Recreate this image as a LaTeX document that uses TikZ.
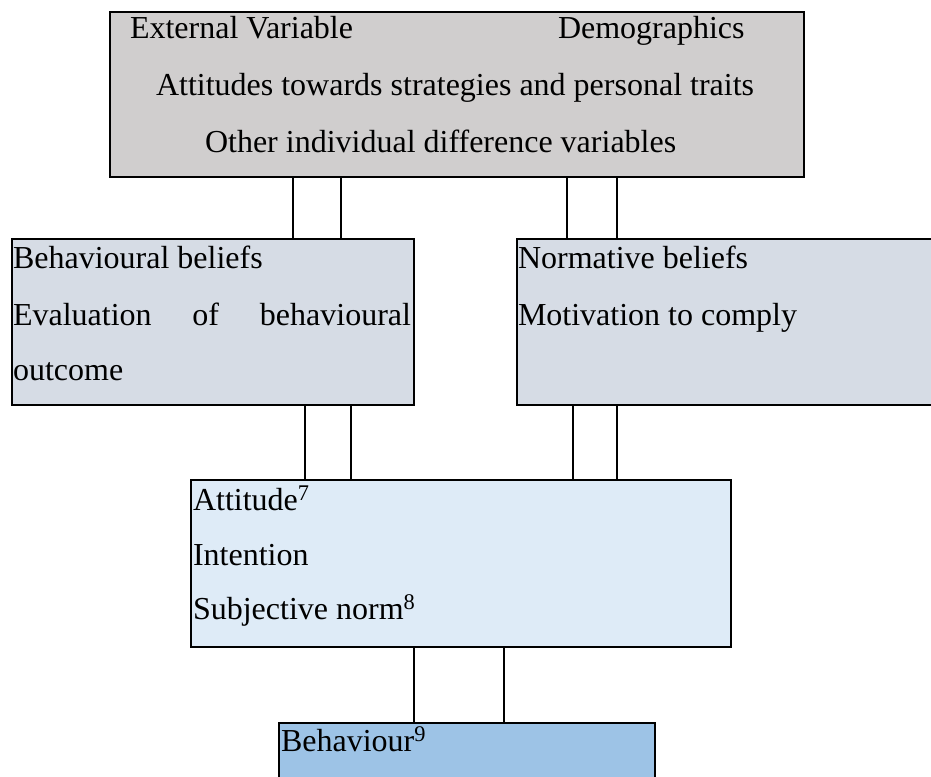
\documentclass[tikz,border=0pt]{standalone}
\usepackage{fontspec}
\setmainfont{Liberation Serif}
\definecolor{extfill}{HTML}{D0CECE}
\definecolor{belfill}{HTML}{D6DCE5}
\definecolor{attfill}{HTML}{DEEBF7}
\definecolor{behfill}{HTML}{9DC3E6}
\tikzset{
  box/.style={draw=black, line width=2pt, rectangle, anchor=north west, inner sep=0pt, outer sep=0pt},
  conn/.style={draw=black, line width=1.8pt},
  txt/.style={anchor=base west, inner sep=0pt, outer sep=0pt, font=\fontsize{32}{38}\selectfont}
}
\begin{document}
\begin{tikzpicture}[x=1pt, y=-1pt]
\useasboundingbox (0,0) rectangle (931,776);
\clip (0,0) rectangle (931,776);
% boxes
\node[box, fill=extfill, minimum width=694pt, minimum height=165pt] (ext) at (110,12) {};
\node[box, fill=belfill, minimum width=402pt, minimum height=166pt] (bb) at (12,239) {};
\node[box, fill=belfill, minimum width=440pt, minimum height=166pt] (nb) at (517,239) {};
\node[box, fill=attfill, minimum width=540pt, minimum height=167pt] (att) at (191,480) {};
\node[box, fill=behfill, minimum width=376pt, minimum height=80pt] (beh) at (279,723) {};
% connectors
\draw[conn] (ext.south -| 293,0) -- (bb.north -| 293,0);
\draw[conn] (ext.south -| 341,0) -- (bb.north -| 341,0);
\draw[conn] (ext.south -| 567,0) -- (nb.north -| 567,0);
\draw[conn] (ext.south -| 617,0) -- (nb.north -| 617,0);
\draw[conn] (bb.south -| 305,0) -- (att.north -| 305,0);
\draw[conn] (bb.south -| 351,0) -- (att.north -| 351,0);
\draw[conn] (nb.south -| 573,0) -- (att.north -| 573,0);
\draw[conn] (nb.south -| 617,0) -- (att.north -| 617,0);
\draw[conn] (att.south -| 414,0) -- (beh.north -| 414,0);
\draw[conn] (att.south -| 504,0) -- (beh.north -| 504,0);
% texts
\node[txt] (t1) at (130,39) {External Variable};
\node[txt] (t2) at (558,39) {Demographics};
\node[txt] (t3) at (156,95.5) {Attitudes towards strategies and personal traits};
\node[txt] (t4) at (205,152) {Other individual difference variables};
\node[txt] (t5) at (13,268) {Behavioural beliefs};
\node[txt] (t6) at (13,325) {\makebox[398pt][s]{Evaluation\hfill of\hfill behavioural}};
\node[txt] (t7) at (13,380) {outcome};
\node[txt] (t8) at (518,268) {Normative beliefs};
\node[txt] (t9) at (518,325) {Motivation to comply};
\node[txt] (t10) at (193,510) {Attitude\textsuperscript{7}};
\node[txt] (t11) at (193,565) {Intention};
\node[txt] (t12) at (193,619) {Subjective norm\textsuperscript{8}};
\node[txt] (t13) at (281,751) {Behaviour\textsuperscript{9}};
\end{tikzpicture}
\end{document}
